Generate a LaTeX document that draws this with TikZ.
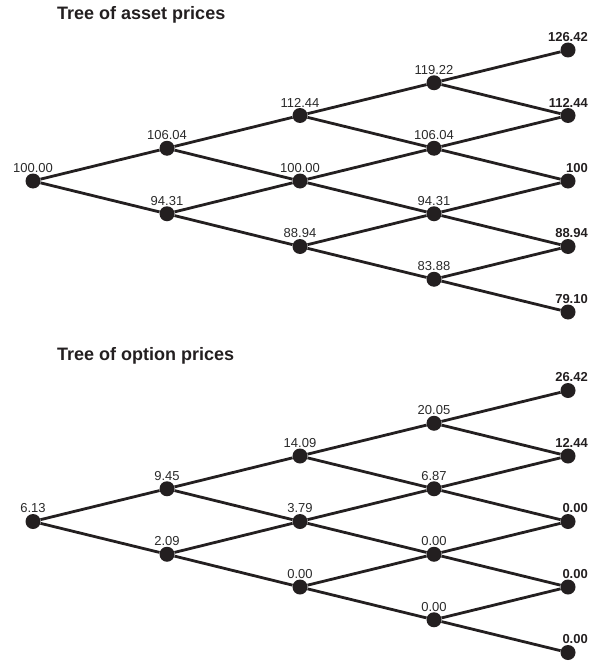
\documentclass[tikz,border=0pt]{standalone}
\usepackage{fontspec}
\setmainfont{Liberation Sans}
\usepackage{tikz}
\usetikzlibrary{positioning}
\definecolor{TreeInk}{HTML}{231F20}
\definecolor{LabelGray}{HTML}{2A2A2A}

\begin{document}
\begin{tikzpicture}[
    x=1pt, y=-1pt,
    dot/.style={circle, fill=TreeInk, draw=none, inner sep=0pt, minimum size=15pt},
    lbl/.style={font=\fontsize{13}{15}\selectfont, text=LabelGray, inner sep=0.5pt, label distance=0pt},
    leaflbl/.style={font=\fontsize{13}{15}\selectfont\bfseries, text=TreeInk, inner sep=0.5pt, anchor=south east, xshift=20.5pt},
    edge/.style={draw=TreeInk, line width=2.8pt},
    treetitle/.style={font=\fontsize{18}{21}\selectfont\bfseries, text=TreeInk, anchor=base west, inner sep=0pt}
  ]
    \useasboundingbox (0,0) rectangle (591,661);

    % asset price tree
    \node[treetitle] (ta) at (57,19.5) {Tree of asset prices};
    \node[dot, label={[lbl]above:100.00}] (a00) at (33,181) {};
    \node[dot, label={[lbl]above:106.04}] (a10) at (167,148.25) {};
    \node[dot, label={[lbl]above:94.31}] (a11) at (167,213.75) {};
    \node[dot, label={[lbl]above:112.44}] (a20) at (300,115.5) {};
    \node[dot, label={[lbl]above:100.00}] (a21) at (300,181) {};
    \node[dot, label={[lbl]above:88.94}] (a22) at (300,246.5) {};
    \node[dot, label={[lbl]above:119.22}] (a30) at (434,82.75) {};
    \node[dot, label={[lbl]above:106.04}] (a31) at (434,148.25) {};
    \node[dot, label={[lbl]above:94.31}] (a32) at (434,213.75) {};
    \node[dot, label={[lbl]above:83.88}] (a33) at (434,279.25) {};
    \node[dot, label={[leaflbl]above:126.42}] (a40) at (568,50) {};
    \node[dot, label={[leaflbl]above:112.44}] (a41) at (568,115.5) {};
    \node[dot, label={[leaflbl]above:100}] (a42) at (568,181) {};
    \node[dot, label={[leaflbl]above:88.94}] (a43) at (568,246.5) {};
    \node[dot, label={[leaflbl]above:79.10}] (a44) at (568,312) {};

    \draw[edge] (a00) -- (a10) (a00) -- (a11);
    \draw[edge] (a10) -- (a20) (a10) -- (a21);
    \draw[edge] (a11) -- (a21) (a11) -- (a22);
    \draw[edge] (a20) -- (a30) (a20) -- (a31);
    \draw[edge] (a21) -- (a31) (a21) -- (a32);
    \draw[edge] (a22) -- (a32) (a22) -- (a33);
    \draw[edge] (a30) -- (a40) (a30) -- (a41);
    \draw[edge] (a31) -- (a41) (a31) -- (a42);
    \draw[edge] (a32) -- (a42) (a32) -- (a43);
    \draw[edge] (a33) -- (a43) (a33) -- (a44);

    % option price tree
    \node[treetitle] (to) at (57,360) {Tree of option prices};
    \node[dot, label={[lbl]above:6.13}] (o00) at (33,521.5) {};
    \node[dot, label={[lbl]above:9.45}] (o10) at (167,488.75) {};
    \node[dot, label={[lbl]above:2.09}] (o11) at (167,554.25) {};
    \node[dot, label={[lbl]above:14.09}] (o20) at (300,456) {};
    \node[dot, label={[lbl]above:3.79}] (o21) at (300,521.5) {};
    \node[dot, label={[lbl]above:0.00}] (o22) at (300,587) {};
    \node[dot, label={[lbl]above:20.05}] (o30) at (434,423.25) {};
    \node[dot, label={[lbl]above:6.87}] (o31) at (434,488.75) {};
    \node[dot, label={[lbl]above:0.00}] (o32) at (434,554.25) {};
    \node[dot, label={[lbl]above:0.00}] (o33) at (434,619.75) {};
    \node[dot, label={[leaflbl]above:26.42}] (o40) at (568,390.5) {};
    \node[dot, label={[leaflbl]above:12.44}] (o41) at (568,456) {};
    \node[dot, label={[leaflbl]above:0.00}] (o42) at (568,521.5) {};
    \node[dot, label={[leaflbl]above:0.00}] (o43) at (568,587) {};
    \node[dot, label={[leaflbl]above:0.00}] (o44) at (568,652.5) {};

    \draw[edge] (o00) -- (o10) (o00) -- (o11);
    \draw[edge] (o10) -- (o20) (o10) -- (o21);
    \draw[edge] (o11) -- (o21) (o11) -- (o22);
    \draw[edge] (o20) -- (o30) (o20) -- (o31);
    \draw[edge] (o21) -- (o31) (o21) -- (o32);
    \draw[edge] (o22) -- (o32) (o22) -- (o33);
    \draw[edge] (o30) -- (o40) (o30) -- (o41);
    \draw[edge] (o31) -- (o41) (o31) -- (o42);
    \draw[edge] (o32) -- (o42) (o32) -- (o43);
    \draw[edge] (o33) -- (o43) (o33) -- (o44);
  \end{tikzpicture}
\end{document}
